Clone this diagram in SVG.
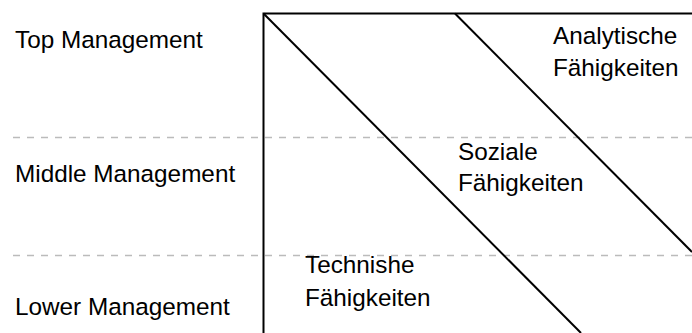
<svg xmlns="http://www.w3.org/2000/svg" width="692" height="333" viewBox="0 0 692 333">
<style>
.t{font-family:"Liberation Sans",Arial,sans-serif;font-size:24.3px;fill:#000}
.d{stroke:#bbbbbb;stroke-width:1.6;stroke-dasharray:7 7;fill:none}
.l{stroke:#000;stroke-width:2;fill:none}
</style>
<rect width="692" height="333" fill="#fff"/>
<g id="levels">
<line class="d" x1="13" y1="137.5" x2="692" y2="137.5"/>
<line class="d" x1="13" y1="255.5" x2="692" y2="255.5"/>
</g>
<g id="labels">
<text class="t" x="15" y="47.5">Top Management</text>
<text class="t" x="15" y="182">Middle Management</text>
<text class="t" x="15" y="315">Lower Management</text>
</g>
<g id="frame">
<polyline class="l" points="263.5,333 263.5,13.5 692,13.5"/>
<line class="l" x1="263.5" y1="13.5" x2="581" y2="333"/>
<line class="l" x1="455" y1="13.5" x2="692" y2="252"/>
</g>
<g id="analytisch">
<text class="t" x="553" y="43.5">Analytische</text>
<text class="t" x="553" y="76">Fähigkeiten</text>
</g>
<g id="sozial">
<text class="t" x="458" y="159.5">Soziale</text>
<text class="t" x="458" y="191">Fähigkeiten</text>
</g>
<g id="technisch">
<text class="t" x="305" y="273">Technishe</text>
<text class="t" x="305" y="306">Fähigkeiten</text>
</g>
</svg>
